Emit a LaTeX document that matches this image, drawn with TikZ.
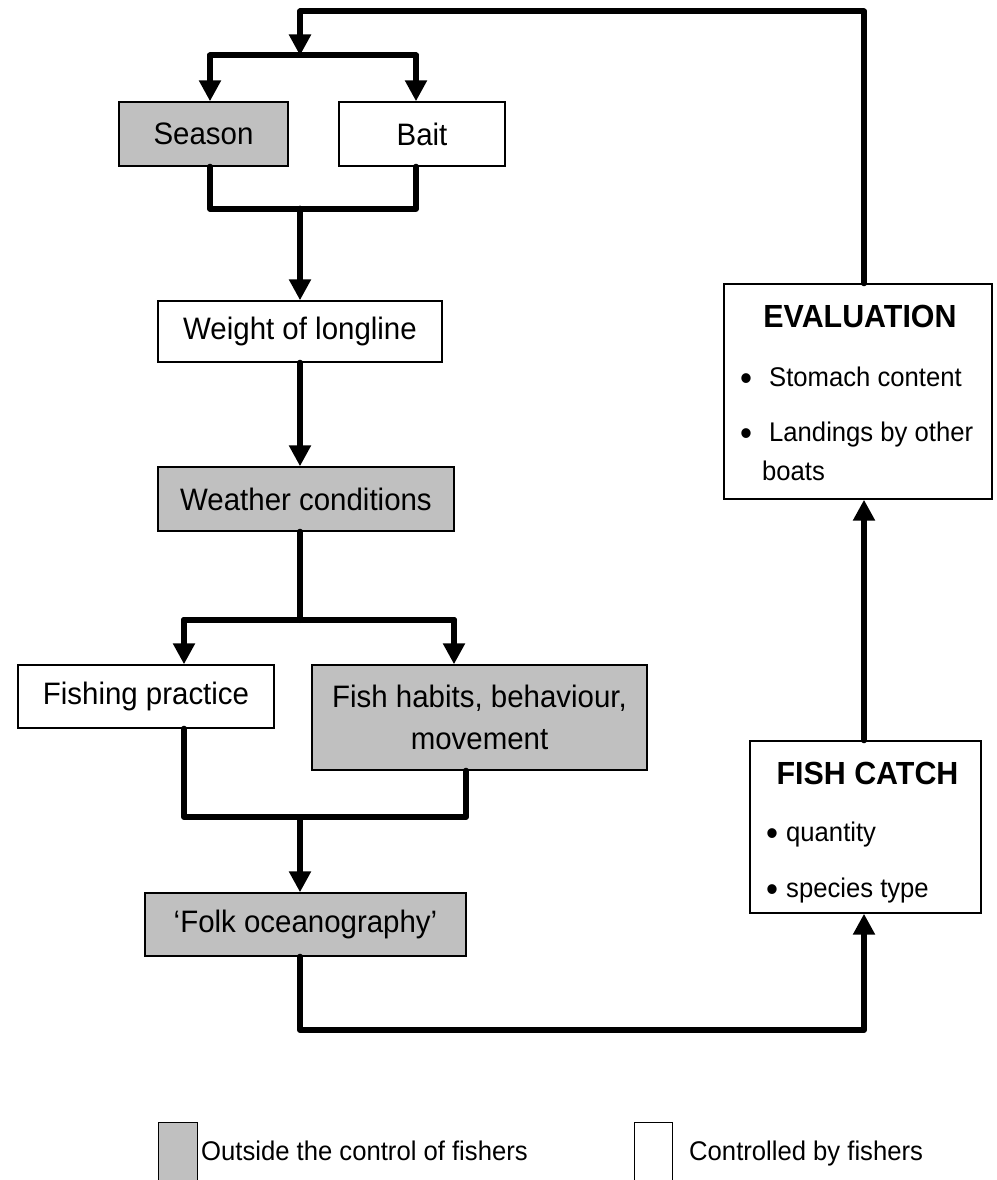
\documentclass[tikz,border=0pt]{standalone}
\usepackage{fontspec}
\setmainfont{Liberation Sans}[FakeStretch=0.95]
\usepackage{xcolor}
\usepackage{tikz}
\usetikzlibrary{arrows.meta}
\definecolor{boxgray}{RGB}{192,192,192}
\newcommand{\itembullet}[1]{\makebox[#1][l]{\fontsize{36}{36}\selectfont\raisebox{-4pt}{•}}}

\begin{document}
\begin{tikzpicture}[x=1pt,y=-1pt,
  box/.style={draw=black, line width=1.4pt, inner sep=0pt, align=center, font=\fontsize{31}{42}\selectfont},
  outside/.style={box, fill=boxgray},
  inside/.style={box, fill=white},
  conn/.style={line width=6pt, line cap=round, line join=round},
  arr/.style={conn, -{Triangle[length=21pt,width=21pt]}},
  item/.style={anchor=base west, inner sep=0pt, font=\fontsize{27}{32}\selectfont},
  head/.style={anchor=base, inner sep=0pt, font=\fontsize{32}{38}\selectfont\bfseries}]
\useasboundingbox (0,0) rectangle (996,1180);

% boxes
\node[outside, minimum width=169pt, minimum height=64pt] (season) at (203.5,134) {Season};
\node[inside, minimum width=166pt, minimum height=64pt] (bait) at (422,134) {Bait};
\node[inside, minimum width=284pt, minimum height=61pt] (weight) at (300,331.5) {Weight of longline};
\node[outside, minimum width=296pt, minimum height=64pt] (weather) at (306,499) {Weather conditions};
\node[inside, minimum width=256pt, minimum height=63pt] (practice) at (146,696.5) {Fishing practice};
\node[outside, minimum width=335pt, minimum height=105pt] (habits) at (479.5,717.5) {Fish habits, behaviour,\\movement};
\node[outside, minimum width=321pt, minimum height=63pt] (folk) at (305.5,924.5) {‘Folk oceanography’};
\node[inside, minimum width=268pt, minimum height=215pt] (eval) at (858,391.5) {};
\node[inside, minimum width=231pt, minimum height=172pt] (catch) at (865.5,827) {};

% box texts
\node[head] (evaltitle) at (860,327.3) {EVALUATION};
\node[item] (stomach) at (740,386.7) {\itembullet{29pt}Stomach content};
\node[item] (landings) at (740,441) {\itembullet{29pt}Landings by other};
\node[item] (boats) at (762,480.7) {boats};
\node[head] (catchtitle) at (867.5,784) {FISH CATCH};
\node[item] (quantity) at (766,841.7) {\itembullet{20pt}quantity};
\node[item] (species) at (766,897) {\itembullet{20pt}species type};

% legend
\node[outside, minimum width=39pt, minimum height=70pt, anchor=north west] (keyout) at (158,1121.5) {};
\node[item] (keyouttext) at (201,1160) {Outside the control of fishers};
\node[inside, minimum width=38pt, minimum height=70pt, anchor=north west] (keyin) at (634,1121.5) {};
\node[item] (keyintext) at (689,1160) {Controlled by fishers};

% junctions
\coordinate (loopR) at (864,11.5);
\coordinate (loopL) at (300,11.5);
\coordinate (splitT) at (300,55.5);
\coordinate (splitTL) at (210,55.5);
\coordinate (splitTR) at (416,55.5);
\coordinate (joinT) at (300,208.6);
\coordinate (joinTL) at (210,208.6);
\coordinate (joinTR) at (416,208.6);
\coordinate (splitB) at (300,620);
\coordinate (splitBL) at (184,620);
\coordinate (splitBR) at (454,620);
\coordinate (joinB) at (300,817);
\coordinate (joinBL) at (184,817);
\coordinate (joinBR) at (466,817);
\coordinate (bottom) at (300,1030);

% connectors
\draw[arr] (eval.north -| loopR) -- (loopR) -- (loopL) -- (splitT);
\draw[conn] (splitTL) -- (splitTR);
\draw[arr] (splitTL) -- (splitTL |- season.north);
\draw[arr] (splitTR) -- (splitTR |- bait.north);
\draw[conn] (season.south -| joinTL) -- (joinTL) -- (joinTR) -- (bait.south -| joinTR);
\draw[arr] (joinT) -- (weight.north);
\draw[arr] (weight.south) -- (weight.south |- weather.north);
\draw[conn] (weather.south -| splitB) -- (splitB);
\draw[conn] (splitBL) -- (splitBR);
\draw[arr] (splitBL) -- (splitBL |- practice.north);
\draw[arr] (splitBR) -- (splitBR |- habits.north);
\draw[conn] (practice.south -| joinBL) -- (joinBL) -- (joinBR) -- (habits.south -| joinBR);
\draw[arr] (joinB) -- (joinB |- folk.north);
\draw[arr] (folk.south -| bottom) -- (bottom) -| (catch.south -| loopR);
\draw[arr] (catch.north -| loopR) -- (eval.south -| loopR);
\end{tikzpicture}
\end{document}
